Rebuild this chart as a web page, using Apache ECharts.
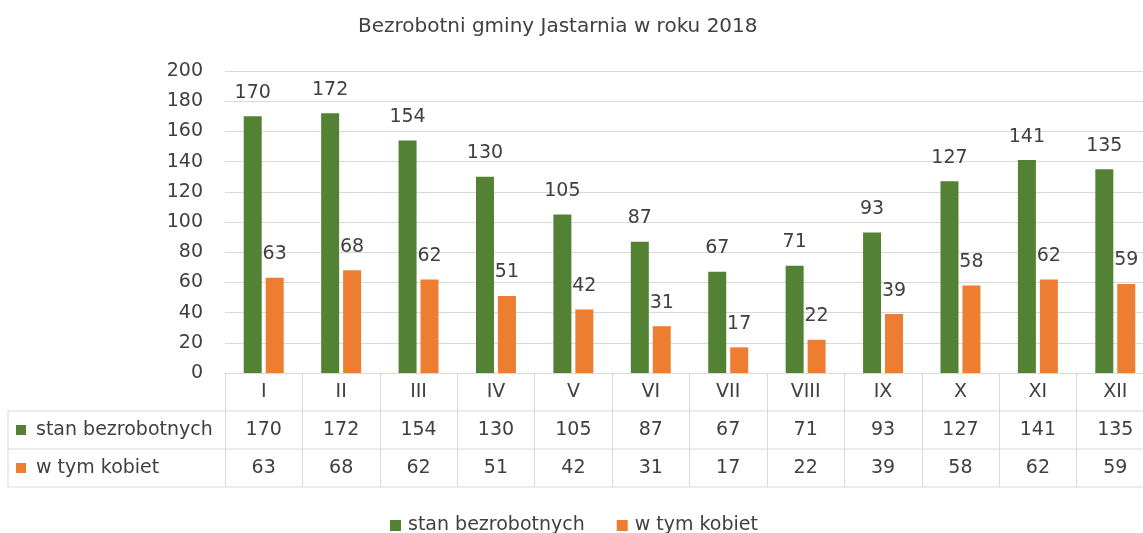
<!DOCTYPE html>
<html>
<head>
<meta charset="utf-8">
<style>
  html, body { margin: 0; padding: 0; background: #fff; }
  #chart { width: 1143px; height: 533px; }
</style>
<script src="https://cdn.jsdelivr.net/npm/echarts/dist/echarts.min.js"></script>
</head>
<body>
<div id="chart"></div>
<script>
// dane
var months = ["I", "II", "III", "IV", "V", "VI", "VII", "VIII", "IX", "X", "XI", "XII"];
var stanBezrobotnych = [170, 172, 154, 130, 105, 87, 67, 71, 93, 127, 141, 135];
var wTymKobiet = [63, 68, 62, 51, 42, 31, 17, 22, 39, 58, 62, 59];
var seriesNames = ["stan bezrobotnych", "w tym kobiet"];

// kolory i uklad
var GREEN = "#548235";
var ORANGE = "#ED7D31";
var TEXT = "#404040";
var LINE = "#d9d9d9";
var FONT = "DejaVu Sans";
var FS = 19;

var GRID_LEFT = 225;
var GRID_TOP = 71;
var PLOT_W = 929;
var PLOT_H = 302;
var ROW_H = 38;
var TABLE_X = 8;
var AXIS_Y = GRID_TOP + PLOT_H;
var GRID_RIGHT_X = GRID_LEFT + PLOT_W;

var myChart = echarts.init(document.getElementById("chart"));

var labelStyle = { fontFamily: FONT, fontSize: FS, color: TEXT };

function tableAxis(data, offset) {
  return {
    type: "category",
    gridIndex: 0,
    position: "bottom",
    offset: offset,
    data: data.map(String),
    axisLine: { show: false },
    axisTick: { show: false },
    axisLabel: Object.assign({ margin: 19, verticalAlign: "middle", interval: 0 }, labelStyle)
  };
}

// tabela danych pod wykresem: linie + opisy wierszy
var graphics = [];
for (var r = 1; r <= 3; r++) {
  graphics.push({
    type: "line",
    shape: { x1: TABLE_X, y1: AXIS_Y + r * ROW_H, x2: GRID_RIGHT_X, y2: AXIS_Y + r * ROW_H },
    style: { stroke: LINE, lineWidth: 1 }
  });
}
graphics.push({
  type: "line",
  shape: { x1: TABLE_X, y1: AXIS_Y + ROW_H, x2: TABLE_X, y2: AXIS_Y + 3 * ROW_H },
  style: { stroke: LINE, lineWidth: 1 }
});
[GREEN, ORANGE].forEach(function (c, i) {
  var cy = AXIS_Y + ROW_H * (i + 1.5);
  graphics.push({
    type: "rect",
    shape: { x: 16, y: cy - 5, width: 10, height: 10 },
    style: { fill: c }
  });
  graphics.push({
    type: "text",
    x: 36,
    y: cy,
    style: {
      text: seriesNames[i],
      font: FS + "px '" + FONT + "'",
      fill: TEXT,
      verticalAlign: "middle"
    }
  });
});

var option = {
  animation: false,
  title: {
    text: "Bezrobotni gminy Jastarnia w roku 2018",
    left: 353,
    top: 12,
    textStyle: { fontFamily: FONT, fontSize: 20, fontWeight: "normal", color: TEXT }
  },
  legend: {
    data: seriesNames,
    left: 385,
    top: 511,
    icon: "rect",
    itemWidth: 11,
    itemHeight: 11,
    itemGap: 32,
    textStyle: Object.assign({ padding: [0, 0, 0, 2] }, labelStyle)
  },
  grid: {
    left: GRID_LEFT,
    top: GRID_TOP,
    width: PLOT_W,
    height: PLOT_H,
    outerBoundsMode: "none"
  },
  xAxis: [
    {
      type: "category",
      data: months,
      position: "bottom",
      axisLine: { lineStyle: { color: LINE } },
      axisTick: { show: true, interval: 0, length: 3 * ROW_H, lineStyle: { color: LINE } },
      axisLabel: Object.assign({ margin: 19, verticalAlign: "middle", interval: 0 }, labelStyle)
    },
    tableAxis(stanBezrobotnych, ROW_H),
    tableAxis(wTymKobiet, 2 * ROW_H)
  ],
  yAxis: {
    type: "value",
    min: 0,
    max: 200,
    interval: 20,
    axisLine: { show: false },
    axisTick: { show: false },
    splitLine: { lineStyle: { color: LINE, width: 1 } },
    axisLabel: Object.assign({ margin: 22 }, labelStyle)
  },
  series: [
    {
      name: seriesNames[0],
      type: "bar",
      xAxisIndex: 0,
      data: stanBezrobotnych,
      barWidth: 18,
      barGap: "22%",
      itemStyle: { color: GREEN },
      label: Object.assign({ show: true, position: "top", distance: 14 }, labelStyle)
    },
    {
      name: seriesNames[1],
      type: "bar",
      xAxisIndex: 0,
      data: wTymKobiet,
      barWidth: 18,
      itemStyle: { color: ORANGE },
      label: Object.assign({ show: true, position: "top", distance: 14 }, labelStyle)
    }
  ],
  graphic: graphics
};

myChart.setOption(option);
</script>
</body>
</html>
